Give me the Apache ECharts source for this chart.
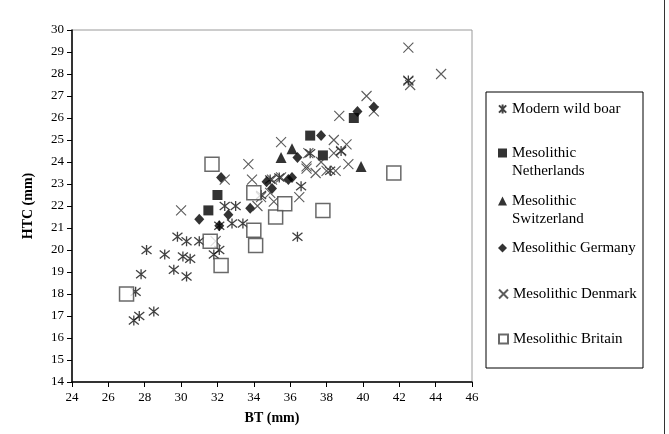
<!DOCTYPE html>
<html>
<head>
<meta charset="utf-8">
<script src="https://cdn.jsdelivr.net/npm/echarts@6/dist/echarts.min.js"></script>
<style>
  html, body { margin: 0; padding: 0; background: #fff; }
  #chart { width: 669px; height: 434px; }
</style>
</head>
<body>
<div id="chart"></div>
<script>
// BT (mm), HTC (mm) pairs
var wildBoar = [
  [27.4, 16.8], [27.7, 17.0], [28.5, 17.2], [27.5, 18.1], [27.8, 18.9], [28.1, 20.0],
  [29.1, 19.8], [29.6, 19.1], [29.8, 20.6], [30.1, 19.7], [30.3, 20.4], [30.5, 19.6],
  [30.3, 18.8], [31.0, 20.4], [31.8, 19.8], [32.1, 20.0], [32.1, 21.1], [32.4, 22.0],
  [33.0, 22.0], [32.8, 21.2], [33.4, 21.2], [34.4, 22.5], [35.4, 23.3], [36.4, 20.6],
  [36.6, 22.9], [37.1, 24.4], [38.2, 23.6], [38.8, 24.5], [42.5, 27.7], [34.9, 23.2]
];
var netherlands = [[31.5, 21.8], [32.0, 22.5], [37.1, 25.2], [37.8, 24.3], [39.5, 26.0]];
var switzerland = [[35.5, 24.2], [36.1, 24.6], [39.9, 23.8]];
var germany = [
  [31.0, 21.4], [32.1, 21.1], [32.6, 21.6], [32.2, 23.3], [33.8, 21.9], [34.7, 23.1],
  [35.0, 22.8], [35.9, 23.2], [36.1, 23.3], [36.4, 24.2], [37.7, 25.2], [39.7, 26.3],
  [40.6, 26.5]
];
var denmark = [
  [30.0, 21.8], [31.9, 20.4], [32.4, 23.2], [33.7, 23.9], [33.9, 23.2], [34.2, 22.0],
  [34.4, 22.4], [35.1, 22.2], [34.9, 22.6], [35.5, 24.9], [35.5, 23.3], [36.5, 22.4],
  [37.0, 24.4], [36.9, 23.8], [37.4, 23.5], [37.7, 24.0], [38.0, 23.6], [38.5, 23.6],
  [38.4, 25.0], [39.1, 24.8], [38.8, 24.5], [38.4, 24.4], [39.2, 23.9], [38.7, 26.1],
  [40.2, 27.0], [40.6, 26.3], [42.5, 29.2], [42.6, 27.5], [44.3, 28.0], [42.5, 27.7],
  [35.0, 23.2], [36.9, 23.7]
];
var britain = [
  [27.0, 18.0], [31.6, 20.4], [32.2, 19.3], [31.7, 23.9], [34.0, 22.6], [34.0, 20.9],
  [34.1, 20.2], [35.2, 21.5], [35.7, 22.1], [37.8, 21.8], [41.7, 23.5]
];

var seriesNames = ['Modern wild boar', 'Mesolithic Netherlands', 'Mesolithic Switzerland',
  'Mesolithic Germany', 'Mesolithic Denmark', 'Mesolithic Britain'];
// leading blank line keeps the icon level with the first line of two-line labels
var legendLabels = ['Modern wild boar', ' \nMesolithic\nNetherlands', ' \nMesolithic\nSwitzerland',
  'Mesolithic Germany', 'Mesolithic Denmark', 'Mesolithic Britain'];
var legendTops = [95, 121, 169, 234, 280, 325];

var serif = '"Liberation Serif", "Times New Roman", serif';
var asterisk = 'path://M1,1L9,9M9,1L1,9M5,0L5,10';
var cross = 'path://M0,0L10,10M10,0L0,10';

var chart = echarts.init(document.getElementById('chart'));

function lineSymbol(color, w) {
  return { color: 'rgba(0,0,0,0)', borderColor: color, borderWidth: w };
}

var option = {
  animation: false,
  backgroundColor: '#fff',
  textStyle: { fontFamily: serif, color: '#000' },
  grid: {
    left: 72, right: 197, top: 30, bottom: 52,
    show: true, borderColor: '#9a9a9a', borderWidth: 1
  },
  xAxis: {
    type: 'value', min: 24, max: 46, interval: 2,
    name: 'BT (mm)', nameLocation: 'middle', nameGap: 29,
    nameTextStyle: { fontFamily: serif, fontWeight: 'bold', fontSize: 14, color: '#000' },
    axisLine: { lineStyle: { color: '#000', width: 1.5 } },
    axisTick: { show: true, length: 5, lineStyle: { color: '#000' } },
    axisLabel: { fontFamily: serif, fontSize: 13, color: '#000', margin: 9 },
    splitLine: { show: false }
  },
  yAxis: {
    type: 'value', min: 14, max: 30, interval: 1,
    name: 'HTC (mm)', nameLocation: 'middle', nameGap: 37,
    nameTextStyle: { fontFamily: serif, fontWeight: 'bold', fontSize: 14, color: '#000' },
    axisLine: { show: true, lineStyle: { color: '#000', width: 1.5 } },
    axisTick: { show: true, length: 5, lineStyle: { color: '#000' } },
    axisLabel: { fontFamily: serif, fontSize: 13, color: '#000', margin: 8 },
    splitLine: { show: false }
  },
  legend: seriesNames.map(function (name, i) {
    return {
      left: 493, top: legendTops[i],
      itemWidth: 9, itemHeight: 9, itemGap: 0,
      selectedMode: false,
      data: [name],
      formatter: function () { return legendLabels[i]; },
      textStyle: { fontFamily: serif, fontSize: 15, color: '#000', lineHeight: 18 }
    };
  }),
  graphic: [
    { type: 'rect', shape: { x: 486, y: 92, width: 157, height: 276 },
      style: { fill: 'none', stroke: '#000', lineWidth: 1 }, z: -1 },
    { type: 'line', shape: { x1: 664.5, y1: 0, x2: 664.5, y2: 434 },
      style: { stroke: '#333', lineWidth: 1 } }
  ],
  series: [
    { name: seriesNames[0], type: 'scatter', data: wildBoar, symbol: asterisk, symbolSize: 10,
      itemStyle: lineSymbol('#111', 1.3) },
    { name: seriesNames[1], type: 'scatter', data: netherlands, symbol: 'rect', symbolSize: 10,
      itemStyle: { color: '#000' } },
    { name: seriesNames[2], type: 'scatter', data: switzerland, symbol: 'triangle', symbolSize: 11,
      itemStyle: { color: '#000' } },
    { name: seriesNames[3], type: 'scatter', data: germany, symbol: 'diamond', symbolSize: [10, 11],
      itemStyle: { color: '#000' } },
    { name: seriesNames[4], type: 'scatter', data: denmark, symbol: cross, symbolSize: 10,
      itemStyle: lineSymbol('#333', 1.1) },
    { name: seriesNames[5], type: 'scatter', data: britain, symbol: 'rect', symbolSize: 14,
      itemStyle: { color: '#fff', borderColor: '#444', borderWidth: 1.5 } }
  ]
};

chart.setOption(option);
</script>
</body>
</html>
